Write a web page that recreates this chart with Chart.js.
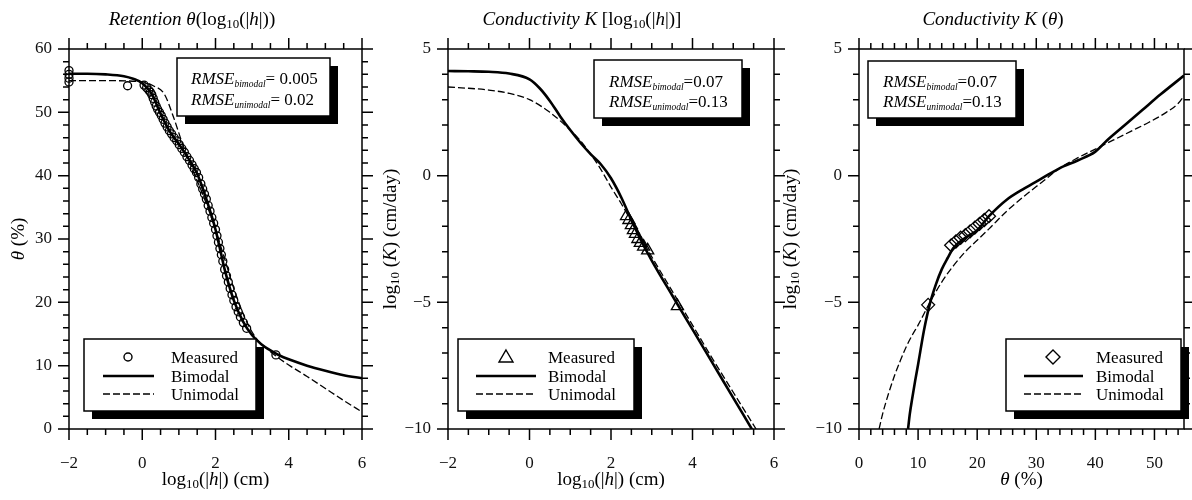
<!DOCTYPE html>
<html lang="en">
<head>
<meta charset="UTF-8">
<title>Retention and conductivity fits</title>
<script src="https://cdn.jsdelivr.net/npm/chart.js"></script>
<style>
  body { margin: 0; background: #fff; }
  canvas { position: absolute; top: 0; }
</style>
</head>
<body>
<canvas id="retention" width="380" height="500" style="left:0"></canvas>
<canvas id="condH" width="410" height="500" style="left:380px"></canvas>
<canvas id="condTheta" width="412" height="500" style="left:780px"></canvas>
<script>
// --- retention theta(log10|h|) ---
const retBimodalX = [-2, -1.5, -1, -0.5, -0.25, 0, 0.25, 0.5, 0.75, 1, 1.25, 1.5, 1.75, 2, 2.12, 2.25, 2.5, 2.75, 3, 3.25, 3.5, 3.75, 4, 4.5, 5, 5.5, 6];
const retBimodalY = [56.1, 56.1, 56.0, 55.7, 55.3, 54.6, 53.0, 49.8, 47.0, 45.0, 42.8, 40.3, 36.3, 31.5, 28.5, 25.2, 20.3, 17.0, 14.8, 13.4, 12.4, 11.6, 11.0, 10.0, 9.2, 8.5, 8.0];
const retUnimodalX = [-2, -1, 0, 0.3, 0.6, 0.85, 1.1, 1.3, 1.6, 1.9, 2.2, 2.5, 2.8, 3.1, 3.4, 3.7, 4, 4.5, 5, 5.5, 6];
const retUnimodalY = [55.0, 55.0, 54.8, 54.2, 52.9, 49.3, 45.0, 42.0, 37.8, 33.2, 27.8, 22.2, 17.6, 14.4, 12.7, 11.3, 10.1, 8.3, 6.4, 4.5, 2.7];
const retMeasX = [-2, -2, -2, -2, -0.4, 0.05, 0.12, 0.18, 0.22, 0.26, 0.3, 0.34, 0.38, 0.42, 0.47, 0.52, 0.57, 0.62, 0.68, 0.74, 0.8, 0.87, 0.94, 1.01, 1.08, 1.15, 1.22, 1.29, 1.36, 1.42, 1.48, 1.54, 1.6, 1.65, 1.7, 1.75, 1.8, 1.85, 1.9, 1.95, 2.0, 2.04, 2.08, 2.12, 2.16, 2.2, 2.25, 2.3, 2.35, 2.4, 2.45, 2.5, 2.56, 2.62, 2.68, 2.76, 2.85, 3.65];
const retMeasY = [56.6, 56.0, 55.4, 54.8, 54.2, 54.3, 53.9, 53.5, 53.2, 52.8, 52.2, 51.6, 51.0, 50.5, 50.0, 49.5, 48.9, 48.3, 47.7, 47.1, 46.6, 46.0, 45.5, 44.9, 44.3, 43.7, 43.0, 42.4, 41.7, 41.1, 40.5, 39.7, 38.7, 37.9, 37.1, 36.3, 35.3, 34.4, 33.4, 32.5, 31.5, 30.5, 29.5, 28.5, 27.5, 26.5, 25.2, 24.2, 23.2, 22.2, 21.2, 20.3, 19.3, 18.5, 17.7, 16.8, 15.9, 11.7];

// --- conductivity log10 K vs log10|h| ---
const khBimodalX = [-2, -1.5, -1, -0.5, 0, 0.25, 0.5, 0.75, 1, 1.25, 1.5, 1.75, 2, 2.25, 2.5, 2.75, 3, 3.5, 4, 4.5, 5, 5.5];
const khBimodalY = [4.13, 4.12, 4.1, 4.03, 3.8, 3.45, 2.95, 2.35, 1.8, 1.3, 0.85, 0.45, -0.1, -0.85, -1.75, -2.6, -3.35, -4.72, -6.07, -7.42, -8.77, -10.12];
const khUnimodalX = [-2, -1.5, -1, -0.5, 0, 0.5, 1, 1.25, 1.5, 1.75, 2, 2.25, 2.5, 2.75, 3, 3.5, 4, 4.5, 5, 5.56];
const khUnimodalY = [3.5, 3.45, 3.38, 3.25, 3.0, 2.5, 1.8, 1.38, 0.85, 0.25, -0.45, -1.1, -1.8, -2.5, -3.2, -4.55, -5.9, -7.25, -8.55, -10];
const khMeasX = [2.38, 2.44, 2.5, 2.55, 2.6, 2.66, 2.72, 2.8, 2.9, 3.63];
const khMeasY = [-1.6, -1.75, -1.95, -2.15, -2.3, -2.5, -2.65, -2.8, -2.95, -5.15];

// --- conductivity log10 K vs theta ---
const ktBimodalX = [8.3, 8.6, 9, 9.5, 10, 11, 12, 13, 14, 15, 16, 18, 20, 22, 25, 28, 31, 34, 37, 40, 42, 45, 48, 51, 55];
const ktBimodalY = [-10, -9.4, -8.8, -8.1, -7.45, -6.1, -5.05, -4.3, -3.7, -3.25, -2.85, -2.45, -2.15, -1.6, -0.95, -0.5, -0.1, 0.3, 0.6, 0.95, 1.4, 2.0, 2.6, 3.2, 3.95];
const ktUnimodalX = [3.4, 4, 5, 6, 7, 8, 9, 10, 12, 14, 16, 18, 20, 22, 25, 28, 31, 34, 37, 40, 43, 46, 49, 52, 54, 55];
const ktUnimodalY = [-10, -9.4, -8.6, -7.9, -7.3, -6.75, -6.3, -5.9, -5.0, -4.2, -3.55, -3.0, -2.55, -2.1, -1.4, -0.8, -0.25, 0.3, 0.7, 1.05, 1.4, 1.75, 2.1, 2.5, 2.85, 3.15];
const ktMeasX = [11.7, 15.6, 16.4, 17.2, 18.0, 18.8, 19.6, 20.4, 21.2, 22.0];
const ktMeasY = [-5.1, -2.75, -2.6, -2.45, -2.35, -2.2, -2.05, -1.9, -1.75, -1.6];

const SERIF = "'Liberation Serif', 'Times New Roman', serif";

const pts = (xs, ys) => xs.map((x, i) => ({ x, y: ys[i] }));

// rich text: runs of [text, style] where style has i (italic) and s (subscript)
function drawRich(ctx, runs, x, y, size, align, subScale) {
  const ss = subScale || 0.68;
  const fontOf = st => (st.includes('i') ? 'italic ' : '') + (st.includes('s') ? size * ss : size) + 'px ' + SERIF;
  let w = 0;
  const widths = runs.map(([t, st]) => { ctx.font = fontOf(st); const m = ctx.measureText(t).width; w += m; return m; });
  let cx = align === 'center' ? x - w / 2 : x;
  ctx.textAlign = 'left';
  ctx.textBaseline = 'alphabetic';
  ctx.fillStyle = '#000';
  runs.forEach(([t, st], i) => {
    ctx.font = fontOf(st);
    ctx.fillText(t, cx, y + (st.includes('s') ? size * 0.16 : 0));
    cx += widths[i];
  });
}

function shadowBox(ctx, b) {
  ctx.fillStyle = '#000';
  ctx.fillRect(b.x + 8, b.y + 8, b.w, b.h);
  ctx.fillStyle = '#fff';
  ctx.fillRect(b.x, b.y, b.w, b.h);
  ctx.strokeStyle = '#000';
  ctx.lineWidth = 1.5;
  ctx.strokeRect(b.x, b.y, b.w, b.h);
}

function legendMarker(ctx, kind, x, y) {
  ctx.beginPath();
  if (kind === 'circle') ctx.arc(x, y, 4, 0, Math.PI * 2);
  if (kind === 'triangle') { ctx.moveTo(x, y - 7); ctx.lineTo(x + 7, y + 5); ctx.lineTo(x - 7, y + 5); ctx.closePath(); }
  if (kind === 'diamond') { ctx.moveTo(x, y - 7); ctx.lineTo(x + 7, y); ctx.lineTo(x, y + 7); ctx.lineTo(x - 7, y); ctx.closePath(); }
  ctx.lineWidth = 1.4;
  ctx.stroke();
}

const isMajor = (v, step) => Math.abs(v / step - Math.round(v / step)) < 1e-6;

// frame with outward ticks on all four sides, titles, rmse box, legend
function makeDeco(c) {
  return {
    id: 'deco',
    afterDraw(chart) {
      const { ctx, chartArea: a, scales: { x, y } } = chart;
      ctx.save();
      ctx.strokeStyle = '#000';
      ctx.lineWidth = 1.5;
      ctx.strokeRect(a.left, a.top, a.right - a.left, a.bottom - a.top);
      ctx.beginPath();
      for (let v = x.min; v <= x.max + 1e-9; v += c.xMinor) {
        const px = x.getPixelForValue(v), len = isMajor(v, c.xMajor) ? 11 : 6;
        ctx.moveTo(px, a.bottom); ctx.lineTo(px, a.bottom + len);
        ctx.moveTo(px, a.top); ctx.lineTo(px, a.top - len);
      }
      for (let v = y.min; v <= y.max + 1e-9; v += c.yMinor) {
        const py = y.getPixelForValue(v), len = isMajor(v, c.yMajor) ? 11 : 6;
        ctx.moveTo(a.left, py); ctx.lineTo(a.left - len, py);
        ctx.moveTo(a.right, py); ctx.lineTo(a.right + len, py);
      }
      ctx.stroke();

      // rmse box
      const r = c.rmse;
      shadowBox(ctx, r.box);
      r.rows.forEach((row, i) => drawRich(ctx, row, r.textX, r.rowY[i], 17, 'left', 0.56));

      // legend
      const g = c.legend;
      shadowBox(ctx, g.box);
      ctx.strokeStyle = '#000';
      legendMarker(ctx, g.marker, g.symX, g.rowY[0]);
      ctx.beginPath();
      ctx.lineWidth = 2.6;
      ctx.moveTo(g.lineX0, g.rowY[1]); ctx.lineTo(g.lineX1, g.rowY[1]);
      ctx.stroke();
      ctx.beginPath();
      ctx.lineWidth = 1.3;
      ctx.setLineDash([7, 3]);
      ctx.moveTo(g.lineX0, g.rowY[2]); ctx.lineTo(g.lineX1, g.rowY[2]);
      ctx.stroke();
      ctx.setLineDash([]);
      ['Measured', 'Bimodal', 'Unimodal'].forEach((t, i) => drawRich(ctx, [[t, '']], g.textX, g.rowY[i] + 6, 17, 'left'));

      // titles
      drawRich(ctx, c.title, c.titleX, 25, 19, 'center');
      drawRich(ctx, c.xTitle, (a.left + a.right) / 2, 485, 19, 'center');
      ctx.translate(c.yTitleX, (a.top + a.bottom) / 2);
      ctx.rotate(-Math.PI / 2);
      drawRich(ctx, c.yTitle, 0, 6, 19, 'center');
      ctx.restore();
    }
  };
}

function makeChart(id, d, c) {
  const tickFont = { family: SERIF, size: 17 };
  const fmt = v => (v < 0 ? '\u2212' + Math.abs(v) : String(v));
  return new Chart(document.getElementById(id), {
    type: 'scatter',
    data: {
      datasets: [
        { label: 'Measured', data: d.meas, pointStyle: d.marker, pointRadius: d.markerR, pointBorderWidth: 1.3,
          borderColor: '#000', backgroundColor: 'rgba(0,0,0,0)', clip: false },
        { label: 'Bimodal', data: d.bi, showLine: true, pointRadius: 0, borderColor: '#000', borderWidth: 2.6,
          cubicInterpolationMode: 'monotone' },
        { label: 'Unimodal', data: d.uni, showLine: true, pointRadius: 0, borderColor: '#000', borderWidth: 1.3,
          borderDash: [7, 3], cubicInterpolationMode: 'monotone' }
      ]
    },
    options: {
      responsive: false,
      animation: false,
      devicePixelRatio: 1,
      layout: { padding: { left: 0, right: c.padRight, top: 49, bottom: 0 } },
      plugins: { legend: { display: false }, tooltip: { enabled: false } },
      scales: {
        x: {
          type: 'linear', min: d.xMin, max: d.xMax,
          grid: { display: false, drawTicks: false }, border: { display: false },
          ticks: { stepSize: d.xStep, includeBounds: false, maxRotation: 0, padding: 24, color: '#111', font: tickFont, callback: fmt },
          afterFit: s => { s.height = 71; s.paddingLeft = 0; s.paddingRight = 0; }
        },
        y: {
          type: 'linear', min: d.yMin, max: d.yMax,
          grid: { display: false, drawTicks: false }, border: { display: false },
          ticks: { stepSize: d.yStep, padding: 17, color: '#111', font: tickFont, callback: fmt },
          afterFit: s => { s.width = c.leftW; s.paddingTop = 0; s.paddingBottom = 0; }
        }
      }
    },
    plugins: [makeDeco(c)]
  });
}

const legendRows = [357, 376, 394];

makeChart('retention',
  { meas: pts(retMeasX, retMeasY), bi: pts(retBimodalX, retBimodalY), uni: pts(retUnimodalX, retUnimodalY),
    marker: 'circle', markerR: 4, xMin: -2, xMax: 6, xStep: 2, yMin: 0, yMax: 60, yStep: 10 },
  { leftW: 69, padRight: 18, xMinor: 0.5, xMajor: 2, yMinor: 2, yMajor: 10,
    title: [['Retention \u03b8', 'i'], ['(log', ''], ['10', 's'], ['(|', ''], ['h', 'i'], ['|))', '']], titleX: 192,
    xTitle: [['log', ''], ['10', 's'], ['(|', ''], ['h', 'i'], ['|) (cm)', '']],
    yTitle: [['\u03b8', 'i'], [' (%)', '']], yTitleX: 18,
    rmse: { box: { x: 177, y: 58, w: 153, h: 58 }, textX: 191, rowY: [84, 105],
      rows: [[['RMSE', 'i'], ['bimodal', 'is'], ['= 0.005', '']], [['RMSE', 'i'], ['unimodal', 'is'], ['= 0.02', '']]] },
    legend: { box: { x: 84, y: 339, w: 172, h: 72 }, marker: 'circle', symX: 128, lineX0: 103, lineX1: 154, textX: 171, rowY: legendRows }
  });

makeChart('condH',
  { meas: pts(khMeasX, khMeasY), bi: pts(khBimodalX, khBimodalY), uni: pts(khUnimodalX, khUnimodalY),
    marker: 'triangle', markerR: 7, xMin: -2, xMax: 6, xStep: 2, yMin: -10, yMax: 5, yStep: 5 },
  { leftW: 68, padRight: 16, xMinor: 0.5, xMajor: 2, yMinor: 1, yMajor: 5,
    title: [['Conductivity K', 'i'], [' [log', ''], ['10', 's'], ['(|', ''], ['h', 'i'], ['|)]', '']], titleX: 202,
    xTitle: [['log', ''], ['10', 's'], ['(|', ''], ['h', 'i'], ['|) (cm)', '']],
    yTitle: [['log', ''], ['10', 's'], [' (', ''], ['K', 'i'], [') (cm/day)', '']], yTitleX: 10,
    rmse: { box: { x: 214, y: 60, w: 148, h: 58 }, textX: 229, rowY: [87, 107],
      rows: [[['RMSE', 'i'], ['bimodal', 'is'], ['=0.07', '']], [['RMSE', 'i'], ['unimodal', 'is'], ['=0.13', '']]] },
    legend: { box: { x: 78, y: 339, w: 176, h: 72 }, marker: 'triangle', symX: 126, lineX0: 96, lineX1: 156, textX: 168, rowY: legendRows }
  });

makeChart('condTheta',
  { meas: pts(ktMeasX, ktMeasY), bi: pts(ktBimodalX, ktBimodalY), uni: pts(ktUnimodalX, ktUnimodalY),
    marker: 'rectRot', markerR: 6.5, xMin: 0, xMax: 55, xStep: 10, yMin: -10, yMax: 5, yStep: 5 },
  { leftW: 79, padRight: 8, xMinor: 2, xMajor: 10, yMinor: 1, yMajor: 5,
    title: [['Conductivity K', 'i'], [' (', ''], ['\u03b8', 'i'], [')', '']], titleX: 213,
    xTitle: [['\u03b8', 'i'], [' (%)', '']],
    yTitle: [['log', ''], ['10', 's'], [' (', ''], ['K', 'i'], [') (cm/day)', '']], yTitleX: 10,
    rmse: { box: { x: 88, y: 61, w: 148, h: 57 }, textX: 103, rowY: [87, 107],
      rows: [[['RMSE', 'i'], ['bimodal', 'is'], ['=0.07', '']], [['RMSE', 'i'], ['unimodal', 'is'], ['=0.13', '']]] },
    legend: { box: { x: 226, y: 339, w: 175, h: 72 }, marker: 'diamond', symX: 273, lineX0: 244, lineX1: 303, textX: 316, rowY: legendRows }
  });
</script>
</body>
</html>
